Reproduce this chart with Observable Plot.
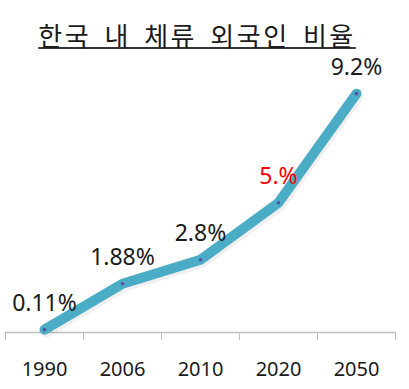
<!DOCTYPE html>
<html>
<head>
<meta charset="utf-8">
<script src="https://cdn.jsdelivr.net/npm/d3@7"></script>
<script src="https://cdn.jsdelivr.net/npm/@observablehq/plot@0.6"></script>
<style>
  html, body { margin: 0; padding: 0; background: #fff; }
  #wrap { width: 409px; }
  #title {
    position: relative; width: 409px; height: 48px;
    font-family: "Noto Sans CJK KR", sans-serif; font-size: 26px; line-height: 30px;
    color: #1a1a1a; letter-spacing: 2.5px; word-spacing: 5px;
  }
  #title span {
    position: absolute; left: 0; right: 15px; top: 20px; text-align: center; white-space: nowrap;
  }
  #title span b {
    font-weight: normal; text-decoration: underline; text-decoration-thickness: 2px;
    text-underline-offset: 1px; text-decoration-color: #333;
  }
  #chart svg { overflow: visible; }
</style>
</head>
<body>
<div id="wrap">
  <div id="title"><span><b id="t"></b></span></div>
  <div id="chart"></div>
</div>
<script>
const titleText = "한국 내 체류 외국인 비율";
const years = ["1990", "2006", "2010", "2020", "2050"];
const values = [0.11, 1.88, 2.8, 5, 9.2];
const valueLabels = ["0.11%", "1.88%", "2.8%", "5.%", "9.2%"];
const highlightYear = "2020";

document.getElementById("t").textContent = titleText;

const rows = years.map((year, i) => ({ i, year, value: values[i], label: valueLabels[i] }));
const bounds = d3.range(-0.5, years.length);

const chart = Plot.plot({
  width: 409,
  height: 341,
  marginLeft: 5,
  marginRight: 14,
  marginTop: 24.4,
  marginBottom: 57,
  style: { background: "transparent", color: "#bfbfbf", fontFamily: "'Noto Sans', 'Noto Sans CJK KR', sans-serif" },
  x: { domain: [-0.5, years.length - 0.5], ticks: bounds, tickSize: 8, tickFormat: () => "", label: null },
  y: { domain: [0, 10], axis: null },
  marks: [
    Plot.ruleY([0], { stroke: "#bfbfbf", strokeWidth: 1.3 }),
    Plot.text(rows, { x: "i", text: "year", frameAnchor: "bottom", lineAnchor: "middle", dy: 37, fontSize: 20, fill: "#1a1a1a" }),
    Plot.line(rows, { x: "i", y: "value", stroke: "#000", strokeOpacity: 0.06, strokeWidth: 10, dx: 2, dy: 3, strokeLinecap: "round", strokeLinejoin: "round" }),
    Plot.line(rows, { x: "i", y: "value", stroke: "#4BACC6", strokeWidth: 10, strokeLinecap: "round", strokeLinejoin: "round" }),
    Plot.dot(rows, { x: "i", y: "value", r: 1.8, fill: "#5a4f9e" }),
    Plot.text(rows, { x: "i", y: "value", text: "label", dy: -26.5, fontSize: 23, fill: d => d.year === highlightYear ? "#ff0000" : "#1a1a1a" })
  ]
});
document.getElementById("chart").appendChild(chart);
</script>
</body>
</html>
